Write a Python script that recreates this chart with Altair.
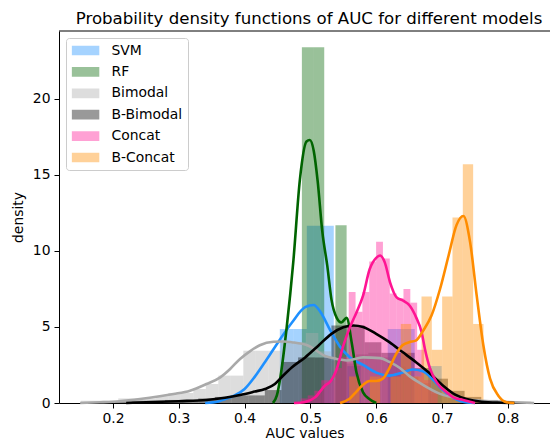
import altair as alt
import pandas as pd

models = ["SVM", "RF", "Bimodal", "B-Bimodal", "Concat", "B-Concat"]
colors = ["#1E90FF", "#006400", "#A9A9A9", "#000000", "#FF1493", "#FF8C00"]
title_text = "Probability density functions of AUC for different models"

# histogram bins: first left edge, bin width, bar heights (density)
svm_start, svm_width = 0.4535, 0.0205
svm_heights = [4.87, 4.87, 11.66, 11.66, 0, 2.43, 0, 0, 4.87, 4.87, 0, 2.43]
rf_start, rf_width = 0.487, 0.017
rf_heights = [23.4, 23.4, 0, 11.7]
bim_start, bim_width = 0.151, 0.019
bim_heights = [0.15, 0.15, 0.15, 0.3, 0.3, 0.3, 0.45, 0.66, 0.66, 0.92, 1.25, 1.8,
               1.8, 3.44, 3.44, 3.44, 4.0, 4.0, 4.6, 3.4, 2.8, 2.6, 3.2, 3.3, 3.0,
               2.4, 1.7, 1.3, 0.6, 0.6, 0.3, 0.15, 0.15, 0.15, 0.1, 0.1]
bb_start, bb_width = 0.203, 0.0253
bb_heights = [0.1, 0.15, 0.15, 0.2, 0.2, 0.3, 0.4, 0.5, 0.5, 0.85, 2.7, 3.0, 3.0,
              5.1, 5.1, 4.0, 3.3, 3.3, 2.3, 1.6, 0.8, 0.4, 0.2, 0.1, 0.05]
con_start, con_width = 0.4854, 0.0104
con_heights = [0.3, 0.5, 0.8, 1.5, 1.5, 2.3, 3.0, 7.3, 6.0, 7.3, 9.3, 10.6, 9.5,
               7.2, 6.9, 7.5, 6.6, 3.5, 1.5, 0.8]
bc_start, bc_width = 0.5432, 0.0157
bc_heights = [0, 1.745, 0, 1.745, 0, 1.745, 5.2, 1.745, 7.0, 3.5, 7.0, 12.2, 15.7, 5.2]

# kernel density curves
svm_kde_x = [0.34, 0.36, 0.37, 0.385, 0.40, 0.415, 0.431, 0.454, 0.472, 0.492, 0.505,
             0.515, 0.53, 0.545, 0.56, 0.58, 0.60, 0.62, 0.64, 0.655, 0.67, 0.685,
             0.70, 0.715, 0.73, 0.75]
svm_kde_y = [0, 0.1, 0.25, 0.5, 0.92, 1.7, 2.7, 4.2, 5.3, 6.3, 6.45, 6.0, 4.8, 3.7,
             3.0, 2.5, 2.0, 1.8, 2.0, 2.2, 2.1, 1.6, 0.9, 0.4, 0.1, 0]
rf_kde_x = [0.443, 0.449, 0.454, 0.464, 0.474, 0.484, 0.494, 0.499, 0.505, 0.511,
            0.518, 0.5257, 0.532, 0.540, 0.547, 0.555, 0.563, 0.570, 0.580, 0.590, 0.600]
rf_kde_y = [0, 0.5, 1.6, 5.0, 9.3, 14.7, 17.2, 17.3, 16.6, 14.6, 11.3, 9.0, 6.8, 5.6,
            5.3, 5.6, 3.9, 2.0, 0.7, 0.25, 0]
bim_kde_x = [0.15, 0.18, 0.21, 0.241, 0.271, 0.292, 0.317, 0.342, 0.363, 0.378, 0.393,
             0.408, 0.423, 0.444, 0.46, 0.4716, 0.497, 0.522, 0.54, 0.555, 0.58, 0.606,
             0.62, 0.636, 0.651, 0.667, 0.697, 0.727, 0.76, 0.80, 0.84]
bim_kde_y = [0, 0.05, 0.12, 0.26, 0.44, 0.59, 0.81, 1.25, 1.69, 2.24, 2.9, 3.4, 3.8,
             4.03, 4.05, 4.0, 3.77, 3.1, 2.9, 2.8, 3.0, 2.95, 2.7, 2.3, 1.75, 1.3, 0.6,
             0.28, 0.15, 0.07, 0]
bb_kde_x = [0.22, 0.25, 0.30, 0.342, 0.37, 0.393, 0.415, 0.431, 0.446, 0.456, 0.472,
            0.492, 0.512, 0.532, 0.55, 0.565, 0.58, 0.60, 0.62, 0.64, 0.66, 0.68, 0.70,
            0.72, 0.737, 0.76, 0.79, 0.81]
bb_kde_y = [0, 0.05, 0.12, 0.2, 0.35, 0.53, 0.75, 0.92, 1.25, 1.69, 2.35, 3.0, 3.77,
            4.55, 4.98, 5.1, 5.0, 4.55, 4.0, 3.35, 2.7, 2.0, 1.2, 0.55, 0.26, 0.08, 0.02, 0]
con_kde_x = [0.475, 0.49, 0.507, 0.522, 0.53, 0.54, 0.55, 0.56, 0.57, 0.58, 0.59, 0.60,
             0.606, 0.613, 0.621, 0.631, 0.641, 0.651, 0.661, 0.669, 0.674, 0.682, 0.692,
             0.707, 0.717, 0.732, 0.75]
con_kde_y = [0, 0.05, 0.37, 1.14, 1.4, 2.24, 3.77, 4.98, 5.96, 7.06, 8.8, 9.55, 9.7,
             9.25, 7.94, 6.95, 6.73, 6.4, 5.6, 4.65, 3.55, 2.24, 1.36, 0.7, 0.37, 0.2, 0]
bc_kde_x = [0.545, 0.56, 0.57, 0.58, 0.59, 0.60, 0.61, 0.62, 0.63, 0.64, 0.65, 0.66,
            0.672, 0.684, 0.697, 0.71, 0.722, 0.7325, 0.7426, 0.7527, 0.7628, 0.773,
            0.7856, 0.798, 0.81]
bc_kde_y = [0, 0.3, 0.75, 1.2, 1.45, 1.45, 1.6, 2.3, 3.2, 3.8, 4.0, 4.1, 4.8, 5.75,
            7.5, 9.7, 11.7, 12.3, 10.6, 7.06, 3.8, 1.6, 0.48, 0.05, 0]

x_ticks = [0.2, 0.3, 0.4, 0.5, 0.6, 0.7, 0.8]
y_ticks = [0, 5, 10, 15, 20]
x_domain = [0.1179, 0.8641]
y_domain = [0, 24.47]

W, H = 491, 372
FONT = "DejaVu Sans"

hists = [(svm_start, svm_width, svm_heights), (rf_start, rf_width, rf_heights),
         (bim_start, bim_width, bim_heights), (bb_start, bb_width, bb_heights),
         (con_start, con_width, con_heights), (bc_start, bc_width, bc_heights)]
kdes = [(svm_kde_x, svm_kde_y), (rf_kde_x, rf_kde_y), (bim_kde_x, bim_kde_y),
        (bb_kde_x, bb_kde_y), (con_kde_x, con_kde_y), (bc_kde_x, bc_kde_y)]

rows = []
for k, (m, (start, width, heights)) in enumerate(zip(models, hists)):
    for i, h in enumerate(heights):
        if h > 0:
            rows.append({"model": m, "order": k, "x0": start + i * width,
                         "x1": start + (i + 1) * width, "h": h})
hist_df = pd.DataFrame(rows)

x_axis = alt.Axis(values=x_ticks, format=".1f", title="AUC values", labelPadding=3,
                  titlePadding=2, tickSize=5)
y_axis = alt.Axis(values=y_ticks, title="density", labelPadding=4, titlePadding=7,
                  tickSize=5)
x_scale = alt.Scale(domain=x_domain, nice=False, zero=False)
y_scale = alt.Scale(domain=y_domain, nice=False, zero=True)

bars = alt.Chart(hist_df).mark_rect(opacity=0.4, strokeWidth=0).encode(
    x=alt.X("x0:Q", scale=x_scale, axis=x_axis),
    x2="x1:Q",
    y=alt.Y("h:Q", scale=y_scale, axis=y_axis),
    y2=alt.datum(0),
    color=alt.Color(
        "model:N",
        scale=alt.Scale(domain=models, range=colors),
        legend=alt.Legend(
            title=None, orient="none", legendX=7, legendY=7,
            symbolType="M-1,-0.35H1V0.35H-1Z", symbolSize=762,
            symbolOpacity=0.4, symbolStrokeWidth=0,
            labelFont=FONT, labelFontSize=13.9, labelColor="black",
            labelOffset=12, padding=5.5, rowPadding=7.4, clipHeight=14,
            strokeColor="#cccccc", fillColor="rgba(255,255,255,0.8)",
            cornerRadius=3,
        ),
    ),
    order=alt.Order("order:Q"),
)

layers = [bars]
for m, c, (xs, ys) in zip(models, colors, kdes):
    df = pd.DataFrame({"x": xs, "y": ys})
    layers.append(
        alt.Chart(df).mark_line(color=c, strokeWidth=2.6, interpolate="monotone").encode(
            x=alt.X("x:Q", scale=x_scale, axis=x_axis),
            y=alt.Y("y:Q", scale=y_scale, axis=y_axis),
        )
    )

top_spine = alt.Chart(pd.DataFrame({"a": [0]})).mark_rule(color="black", strokeWidth=1).encode(
    x=alt.value(0), x2=alt.value(W), y=alt.value(0)
)
layers.append(top_spine)

title_mark = alt.Chart(pd.DataFrame({"t": [title_text]})).mark_text(
    font=FONT, fontSize=16.6, color="black", align="center", baseline="alphabetic"
).encode(x=alt.value(250), y=alt.value(-7), text="t:N")
layers.append(title_mark)

chart = alt.layer(*layers).properties(
    width=W, height=H,
    autosize=alt.AutoSizeParams(type="none"),
    padding={"left": 51, "top": 23, "right": 0, "bottom": 37},
).configure_view(strokeWidth=0).configure_axis(
    domainColor="black", tickColor="black", labelColor="black", titleColor="black",
    grid=False, labelFont=FONT, titleFont=FONT, labelFontSize=13.9, titleFontSize=13.9,
    titleFontWeight="normal", domainWidth=1, tickWidth=1,
)

chart.save("out.html", embed_options={"renderer": "svg", "actions": False})
